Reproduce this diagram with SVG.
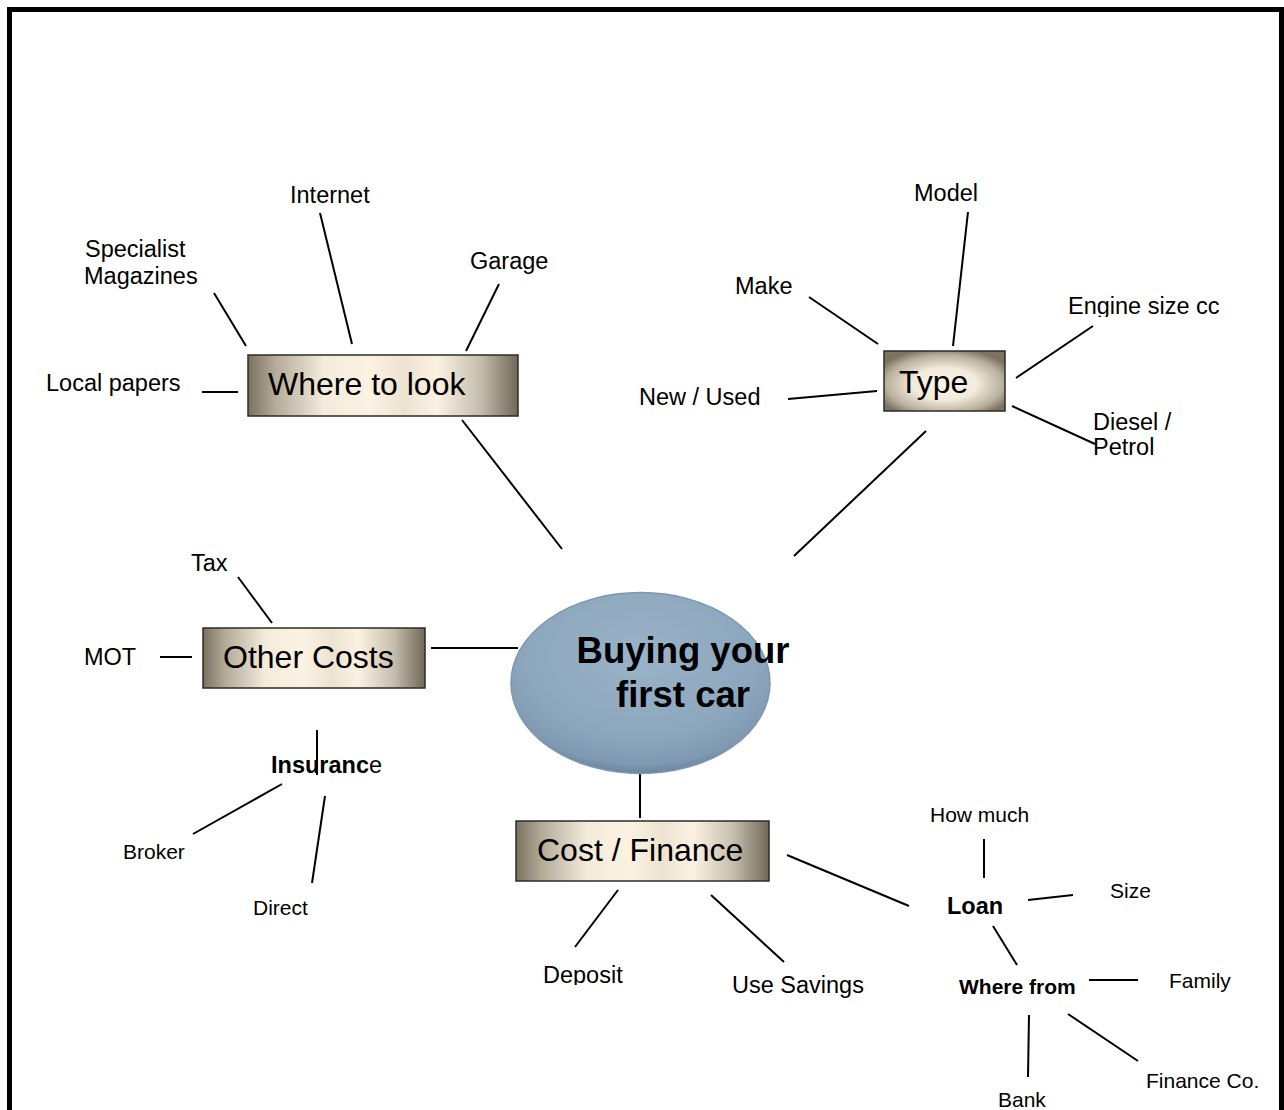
<svg xmlns="http://www.w3.org/2000/svg" width="1284" height="1110" viewBox="0 0 1284 1110">
<defs>
<linearGradient id="boxGrad" x1="0" y1="0" x2="1" y2="0">
<stop offset="0" stop-color="#7a7161"/>
<stop offset="0.1" stop-color="#b3aa98"/>
<stop offset="0.28" stop-color="#f3ebdb"/>
<stop offset="0.45" stop-color="#fbf2e2"/>
<stop offset="0.58" stop-color="#ece3d1"/>
<stop offset="0.7" stop-color="#fbf2e2"/>
<stop offset="0.86" stop-color="#c6beac"/>
<stop offset="1" stop-color="#6f6858"/>
</linearGradient>
<radialGradient id="typeGrad" cx="0.5" cy="0.55" r="0.6">
<stop offset="0" stop-color="#fcf4e4"/>
<stop offset="0.45" stop-color="#f2eada"/>
<stop offset="0.8" stop-color="#b9b09e"/>
<stop offset="1" stop-color="#7c7363"/>
</radialGradient>
<radialGradient id="ellGrad" cx="0.5" cy="0.35" r="0.65">
<stop offset="0" stop-color="#9ab3c8"/>
<stop offset="0.7" stop-color="#8ca6bd"/>
<stop offset="0.92" stop-color="#7e99b1"/>
<stop offset="1" stop-color="#6a859e"/>
</radialGradient>
<clipPath id="clipEngine"><rect x="1000" y="280" width="260" height="37"/></clipPath>
<clipPath id="clipDeposit"><rect x="520" y="950" width="140" height="35"/></clipPath>
<style>
.box{stroke:#2e2b26;stroke-width:1.5}
.big{font-family:"Liberation Sans",Arial,sans-serif;font-size:32px;fill:#000}
.title{font-family:"Liberation Sans",Arial,sans-serif;font-size:36.5px;font-weight:bold;fill:#000}
.lbl{font-family:"Liberation Sans",Arial,sans-serif;font-size:23.5px;fill:#000}
.sm{font-family:"Liberation Sans",Arial,sans-serif;font-size:21px;fill:#000}
.b{font-weight:bold}
#connectors line{stroke:#000;stroke-width:2}
</style>
</defs>
<rect x="0" y="0" width="1284" height="1110" fill="#fff"/>
<rect x="9.5" y="9.5" width="1272" height="1130" fill="none" stroke="#000" stroke-width="5"/>

<g id="connectors">
<line x1="462" y1="420" x2="562" y2="549"/>
<line x1="926" y1="431" x2="794" y2="556"/>
<line x1="431" y1="648" x2="518" y2="648"/>
<line x1="640" y1="745" x2="640" y2="818"/>
<line x1="787" y1="855" x2="909" y2="906"/>
<line x1="202" y1="392" x2="238" y2="392"/>
<line x1="214" y1="293" x2="246" y2="346"/>
<line x1="320" y1="213" x2="352" y2="344"/>
<line x1="499" y1="284" x2="466" y2="351"/>
<line x1="968" y1="212" x2="953" y2="346"/>
<line x1="809" y1="297" x2="878" y2="344"/>
<line x1="788" y1="399" x2="877" y2="391"/>
<line x1="1093" y1="326" x2="1016" y2="378"/>
<line x1="1012" y1="406" x2="1095" y2="444"/>
<line x1="238" y1="577" x2="272" y2="623"/>
<line x1="160" y1="657" x2="192" y2="657"/>
<line x1="317" y1="730" x2="317" y2="775"/>
<line x1="282" y1="784" x2="193" y2="834"/>
<line x1="325" y1="796" x2="312" y2="883"/>
<line x1="618" y1="890" x2="575" y2="947"/>
<line x1="711" y1="895" x2="784" y2="962"/>
<line x1="984" y1="839" x2="984" y2="878"/>
<line x1="1028" y1="900" x2="1073" y2="895"/>
<line x1="993" y1="926" x2="1017" y2="965"/>
<line x1="1089" y1="980" x2="1138" y2="980"/>
<line x1="1068" y1="1014" x2="1138" y2="1061"/>
<line x1="1029" y1="1015" x2="1028" y2="1077"/>
</g>

<g id="center">
<ellipse cx="640.5" cy="683" rx="129.5" ry="90.5" fill="url(#ellGrad)" stroke="#7d97ae" stroke-width="1.5"/>
<text class="title" x="683" y="663" text-anchor="middle">Buying your</text>
<text class="title" x="683" y="707" text-anchor="middle">first car</text>
</g>

<g id="where-to-look">
<rect class="box" x="248" y="355" width="270" height="61" fill="url(#boxGrad)"/>
<text class="big" x="268" y="395">Where to look</text>
</g>
<g id="type">
<rect class="box" x="884" y="351" width="121" height="60" fill="url(#typeGrad)"/>
<text class="big" x="899" y="393">Type</text>
</g>
<g id="other-costs">
<rect class="box" x="203" y="628" width="222" height="60" fill="url(#boxGrad)"/>
<text class="big" x="223" y="668">Other Costs</text>
</g>
<g id="cost-finance">
<rect class="box" x="516" y="821" width="253" height="60" fill="url(#boxGrad)"/>
<text class="big" x="537" y="861">Cost / Finance</text>
</g>

<g id="local-papers"><text class="lbl" x="46" y="391">Local papers</text></g>
<g id="specialist-magazines"><text class="lbl" x="85" y="257">Specialist</text><text class="lbl" x="84" y="284">Magazines</text></g>
<g id="internet"><text class="lbl" x="290" y="203">Internet</text></g>
<g id="garage"><text class="lbl" x="470" y="269">Garage</text></g>

<g id="model"><text class="lbl" x="914" y="201">Model</text></g>
<g id="make"><text class="lbl" x="735" y="294">Make</text></g>
<g id="new-used"><text class="lbl" x="639" y="405">New / Used</text></g>
<g id="engine"><text class="lbl" x="1068" y="314" clip-path="url(#clipEngine)">Engine size cc</text></g>
<g id="diesel"><text class="lbl" x="1093" y="430">Diesel /</text><text class="lbl" x="1093" y="455">Petrol</text></g>

<g id="tax"><text class="lbl" x="191" y="571">Tax</text></g>
<g id="mot"><text class="lbl" x="84" y="665">MOT</text></g>
<g id="insurance"><text class="lbl" x="271" y="773"><tspan font-weight="bold">Insuranc</tspan>e</text></g>
<g id="broker"><text class="sm" x="123" y="859">Broker</text></g>
<g id="direct"><text class="sm" x="253" y="915">Direct</text></g>

<g id="deposit"><text class="lbl" x="543" y="983" clip-path="url(#clipDeposit)">Deposit</text></g>
<g id="use-savings"><text class="lbl" x="732" y="993">Use Savings</text></g>

<g id="loan"><text class="lbl b" x="947" y="914">Loan</text></g>
<g id="how-much"><text class="sm" x="930" y="822">How much</text></g>
<g id="size"><text class="sm" x="1110" y="898">Size</text></g>
<g id="where-from"><text class="sm b" x="959" y="994">Where from</text></g>
<g id="family"><text class="sm" x="1169" y="988">Family</text></g>
<g id="finance-co"><text class="sm" x="1146" y="1088">Finance Co.</text></g>
<g id="bank"><text class="sm" x="998" y="1107">Bank</text></g>
</svg>
